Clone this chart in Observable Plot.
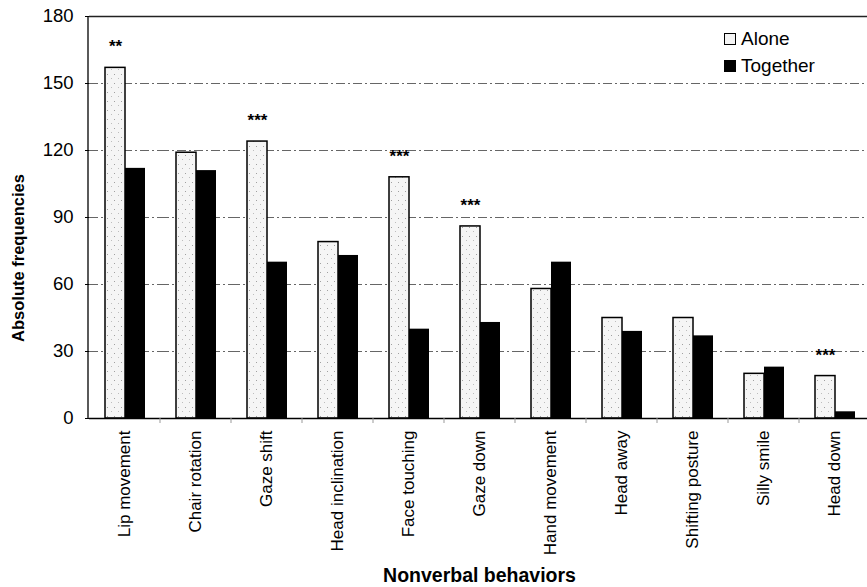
<!DOCTYPE html>
<html>
<head>
<meta charset="utf-8">
<script src="https://cdn.jsdelivr.net/npm/d3@7"></script>
<script src="https://cdn.jsdelivr.net/npm/@observablehq/plot@0.6"></script>
<style>
  html, body { margin: 0; padding: 0; background: #fff; overflow: hidden; }
  #chart { position: relative; width: 867px; height: 587px; overflow: hidden;
           font-family: "Liberation Sans", Arial, Helvetica, sans-serif; }
  #legend { position: absolute; left: 724px; top: 25px; font-size: 19px; color: #000; }
  #legend .row { display: flex; align-items: center; height: 27px; }
  #legend .sw { width: 12px; height: 12px; margin-right: 5px; box-sizing: border-box; }
  #legend .alone { border: 1.3px solid #000; background: #f4f4f4; }
  #legend .together { background: #000; }
</style>
</head>
<body>
<div id="chart">
  <div id="legend">
    <div class="row"><div class="sw alone"></div><span id="lg0"></span></div>
    <div class="row"><div class="sw together"></div><span id="lg1"></span></div>
  </div>
</div>
<script>
// ---- data ----
const categories = ["Lip movement", "Chair rotation", "Gaze shift", "Head inclination", "Face touching",
  "Gaze down", "Hand movement", "Head away", "Shifting posture", "Silly smile", "Head down"];
const groups = ["Alone", "Together"];
const alone = [157, 119, 124, 79, 108, 86, 58, 45, 45, 20, 19];
const together = [112, 111, 70, 73, 40, 43, 70, 39, 37, 23, 3];
const significance = ["**", "", "***", "", "***", "***", "", "", "", "", "***"];
const yTicks = [0, 30, 60, 90, 120, 150, 180];
const xTitle = "Nonverbal behaviors";
const yTitle = "Absolute frequencies";

// ---- tables built from the arrays ----
const rows = categories.flatMap((c, i) => [
  {category: c, group: groups[0], value: alone[i]},
  {category: c, group: groups[1], value: together[i]}
]);
const stars = categories
  .map((c, i) => ({category: c, group: groups[0], value: alone[i], label: significance[i]}))
  .filter(d => d.label);

const W = 871, H = 587, mL = 88, mT = 16, mB = 169;
const font = '"Liberation Sans", Arial, Helvetica, sans-serif';

const plot = Plot.plot({
  width: W, height: H,
  marginLeft: mL, marginRight: 0, marginTop: mT, marginBottom: mB,
  style: {fontFamily: font, fontSize: "17px", color: "#000", background: "transparent", overflow: "visible", maxWidth: "none"},
  fx: {domain: categories, padding: 0, label: null},
  x: {domain: groups, paddingInner: 0, paddingOuter: 0.74, axis: null},
  y: {domain: [0, 180], label: null},
  marks: [
    Plot.gridY(yTicks.filter(t => t > 0 && t < 180), {stroke: "#666", strokeOpacity: 1, strokeWidth: 1, strokeDasharray: "9,3,2,3"}),
    Plot.ruleY([180], {stroke: "#222", strokeWidth: 1.3}),
    Plot.barY(rows.filter(d => d.group === groups[0]), {fx: "category", x: "group", y: "value", fill: "url(#stipple)", stroke: "#000", strokeWidth: 1.5, inset: 0}),
    Plot.barY(rows.filter(d => d.group === groups[1]), {fx: "category", x: "group", y: "value", fill: "#000", inset: 0}),
    Plot.ruleY([0], {stroke: "#000", strokeWidth: 1.5}),
    Plot.text(stars, {fx: "category", x: "group", y: "value", text: "label", dy: -21, fontSize: 17, fontWeight: "bold"}),
    Plot.axisY({ticks: yTicks, tickSize: 4, tickPadding: 12, fontSize: 18.5, label: null}),
    Plot.axisFx({anchor: "bottom", tickRotate: -90, tickSize: 0, tickPadding: 12, fontSize: 17, label: null})
  ]
});

const svg = d3.select(plot);
// make sure the tick label sizes are applied
svg.selectAll('g[aria-label="y-axis tick label"], g[aria-label="y-axis tick label"] text')
  .attr("font-size", 18.5).style("font-size", "18.5px");
svg.selectAll('g[aria-label="fx-axis tick label"], g[aria-label="fx-axis tick label"] text')
  .attr("font-size", 17).style("font-size", "17px");

// stipple pattern for the "Alone" bars
const defs = svg.insert("defs", ":first-child");
const pat = defs.append("pattern").attr("id", "stipple").attr("patternUnits", "userSpaceOnUse")
  .attr("width", 7).attr("height", 9);
pat.append("rect").attr("width", 7).attr("height", 9).attr("fill", "#f5f5f5");
pat.append("rect").attr("x", 1).attr("y", 2).attr("width", 1).attr("height", 1).attr("fill", "#a0a0a0");
pat.append("rect").attr("x", 5).attr("y", 6).attr("width", 1).attr("height", 1).attr("fill", "#bdbdbd");

// left axis line
const ys = plot.scale("y");
svg.append("line").attr("x1", mL).attr("x2", mL)
  .attr("y1", ys.apply(0)).attr("y2", ys.apply(180))
  .attr("stroke", "#000").attr("stroke-width", 1.3);

// small ticks between categories
const fxs = plot.scale("fx");
categories.slice(1).forEach(c => {
  const x = fxs.apply(c);
  svg.append("line").attr("x1", x).attr("x2", x)
    .attr("y1", ys.apply(0)).attr("y2", ys.apply(0) + 5)
    .attr("stroke", "#999").attr("stroke-width", 1);
});

// axis titles
svg.append("text")
  .attr("transform", `translate(20,${(mT + H - mB) / 2 + 41}) rotate(-90)`)
  .attr("text-anchor", "middle").attr("dominant-baseline", "middle")
  .attr("font-family", font).attr("font-size", 16.5).attr("font-weight", "bold")
  .text(yTitle);
svg.append("text")
  .attr("x", (mL + W) / 2).attr("y", 582)
  .attr("text-anchor", "middle")
  .attr("font-family", font).attr("font-size", 19.5).attr("font-weight", "bold")
  .text(xTitle);

document.getElementById("lg0").textContent = groups[0];
document.getElementById("lg1").textContent = groups[1];
document.getElementById("chart").insertBefore(plot, document.getElementById("legend"));
plot.style.position = "absolute";
plot.style.left = "0px";
plot.style.top = "0px";
</script>
</body>
</html>
